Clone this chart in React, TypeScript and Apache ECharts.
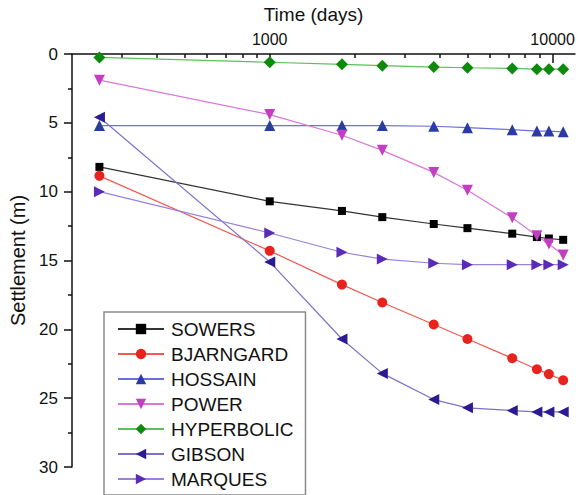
import React, { useEffect, useRef } from "react";
import * as echarts from "echarts";

const days = [250, 1000, 1800, 2500, 3800, 5000, 7200, 8800, 9700, 10900];
const sowers = [8.2, 10.7, 11.4, 11.85, 12.35, 12.65, 13.05, 13.3, 13.4, 13.5];
const bjarngard = [8.85, 14.3, 16.75, 18.05, 19.65, 20.7, 22.1, 22.9, 23.25, 23.7];
const hossain = [5.2, 5.2, 5.2, 5.2, 5.25, 5.35, 5.5, 5.6, 5.6, 5.65];
const power = [1.9, 4.4, 5.9, 7.0, 8.6, 9.9, 11.9, 13.2, 13.8, 14.6];
const hyperbolic = [0.25, 0.6, 0.75, 0.85, 0.95, 1.0, 1.05, 1.1, 1.1, 1.1];
const gibson = [4.6, 15.1, 20.7, 23.2, 25.1, 25.7, 25.9, 26.0, 26.0, 26.0];
const marques = [10.0, 13.0, 14.4, 14.9, 15.2, 15.3, 15.3, 15.3, 15.3, 15.3];

const X_MIN = 200;
const X_MAX = 12000;
const majorTicks = [1000, 10000];
const minorTicks = [300, 400, 500, 600, 700, 800, 900, 2000, 3000, 4000, 5000, 6000, 7000, 8000, 9000];

const FONT = "'Liberation Sans', Arial, sans-serif";

type S = { name: string; values: number[]; symbol: string; rotate: number; size: number; marker: string; line: string };
const seriesDefs: S[] = [
  { name: "SOWERS", values: sowers, symbol: "rect", rotate: 0, size: 8, marker: "#000000", line: "#333333" },
  { name: "BJARNGARD", values: bjarngard, symbol: "circle", rotate: 0, size: 10, marker: "#e8231e", line: "#f05a50" },
  { name: "HOSSAIN", values: hossain, symbol: "triangle", rotate: 0, size: 11, marker: "#2a3aa6", line: "#6d70d8" },
  { name: "POWER", values: power, symbol: "triangle", rotate: 180, size: 11, marker: "#c23fc2", line: "#d878d8" },
  { name: "HYPERBOLIC", values: hyperbolic, symbol: "diamond", rotate: 0, size: 12, marker: "#0b8a0b", line: "#5cc05c" },
  { name: "GIBSON", values: gibson, symbol: "triangle", rotate: 90, size: 11, marker: "#2c1a90", line: "#7c72c8" },
  { name: "MARQUES", values: marques, symbol: "triangle", rotate: -90, size: 11, marker: "#5a2ab8", line: "#9a82dc" },
];

const lg = (v: number) => Math.log10(v);

export default function App() {
  const ref = useRef<HTMLDivElement>(null);
  useEffect(() => {
    if (!ref.current) return;
    const chart = echarts.init(ref.current, undefined, { renderer: "svg" });
    const tickAxisBase = {
      type: "value",
      position: "top",
      offset: 0,
      min: lg(X_MIN),
      max: lg(X_MAX),
      axisLine: { show: false },
      splitLine: { show: false },
    };
    chart.setOption({
      animation: false,
      textStyle: { fontFamily: FONT },
      grid: { left: 72, top: 54, right: 5, bottom: 28, containLabel: false },
      xAxis: [
        {
          type: "log",
          logBase: 10,
          position: "top",
          min: X_MIN,
          max: X_MAX,
          name: "Time (days)",
          nameLocation: "middle",
          nameGap: 30,
          nameTextStyle: { fontSize: 19, color: "#111", fontFamily: FONT, padding: [0, 20, 0, 0] },
          axisLine: { show: true, lineStyle: { color: "#111", width: 1.5 } },
          axisTick: { show: false },
          axisLabel: { show: false },
          splitLine: { show: false },
        },
        {
          ...tickAxisBase,
          axisTick: { show: true, inside: true, length: 9, customValues: majorTicks.map(lg), lineStyle: { color: "#111", width: 1.5 } },
          axisLabel: {
            show: true,
            customValues: majorTicks.map(lg),
            fontSize: 16,
            color: "#111",
            margin: 7,
            fontFamily: FONT,
            formatter: (v: number) => String(Math.round(Math.pow(10, v))),
          },
        },
        {
          ...tickAxisBase,
          axisTick: { show: true, inside: true, length: 4, customValues: minorTicks.map(lg), lineStyle: { color: "#111", width: 1.5 } },
          axisLabel: { show: false },
        },
      ],
      yAxis: {
        type: "value",
        inverse: true,
        min: 0,
        max: 30,
        interval: 5,
        name: "Settlement (m)",
        nameLocation: "middle",
        nameGap: 43,
        nameTextStyle: { fontSize: 20, color: "#111", fontFamily: FONT },
        axisLine: { show: true, lineStyle: { color: "#111", width: 1.5 } },
        axisTick: { show: true, inside: false, length: 8, lineStyle: { color: "#111", width: 1.5 } },
        minorTick: { show: true, splitNumber: 2, length: 4, lineStyle: { color: "#111", width: 1.5 } },
        axisLabel: { fontSize: 17, color: "#111", margin: 14, fontFamily: FONT },
        splitLine: { show: false },
      },
      legend: {
        orient: "vertical",
        left: 104,
        top: 312,
        padding: [7, 12, 6, 13],
        borderColor: "#8a8a8a",
        borderWidth: 1.5,
        itemWidth: 46,
        itemHeight: 13,
        itemGap: 5,
        data: seriesDefs.map((s) => s.name),
        textStyle: { fontSize: 19, color: "#111", fontFamily: FONT, lineHeight: 20, padding: [0, 0, 0, 2] },
      },
      series: seriesDefs.map((s) => ({
        name: s.name,
        type: "line",
        xAxisIndex: 0,
        data: days.map((d, i) => [d, s.values[i]]),
        symbol: s.symbol,
        symbolSize: s.size,
        symbolRotate: s.rotate,
        showAllSymbol: true,
        lineStyle: { color: s.line, width: 1.2 },
        itemStyle: { color: s.marker, borderWidth: 0 },
      })),
    });
    return () => chart.dispose();
  }, []);
  return <div ref={ref} style={{ width: 580, height: 495, position: "absolute", left: 0, top: 0 }} />;
}
